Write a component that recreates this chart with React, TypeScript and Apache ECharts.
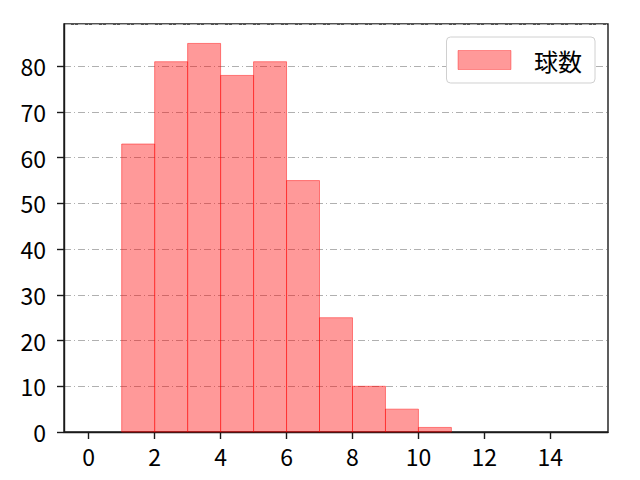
import { useRef, useEffect } from 'react'
import * as echarts from 'echarts'

// histogram bins (left edge) and counts
const binStarts = [1, 2, 3, 4, 5, 6, 7, 8, 9, 10]
const counts = [63, 81, 85, 78, 81, 55, 25, 10, 5, 1]
const binWidth = 1
const xTicks = [0, 2, 4, 6, 8, 10, 12, 14]
const seriesName = '球数'

const FONT = '"Noto Sans CJK JP", "Noto Sans", sans-serif'
const INK = '#1a1a1a'

export default function App() {
  const chartRef = useRef<HTMLDivElement>(null)

  useEffect(() => {
    if (!chartRef.current) return
    const chart = echarts.init(chartRef.current, undefined, { renderer: 'svg' })

    const data = binStarts.map((s, i) => [s, s + binWidth, counts[i]])

    chart.setOption({
      animation: false,
      backgroundColor: '#fff',
      textStyle: { fontFamily: FONT },
      grid: {
        left: 64, right: 32, top: 24, bottom: 48,
        show: true, borderColor: INK, borderWidth: 1.4, backgroundColor: 'transparent',
      },
      legend: {
        right: 45, top: 37,
        padding: [11, 13, 11, 11],
        backgroundColor: '#fff',
        borderColor: '#d0d0d0', borderWidth: 1, borderRadius: 4,
        icon: 'rect', itemWidth: 53, itemHeight: 19,
        textStyle: { fontSize: 24, color: '#000', fontFamily: FONT, padding: [0, 0, 0, 18] },
        data: [{ name: seriesName, itemStyle: { color: 'rgba(255,0,0,0.4)', borderColor: 'rgba(255,0,0,0.35)', borderWidth: 1 } }],
      },
      xAxis: {
        type: 'value',
        min: -0.75, max: 15.75,
        axisLine: { show: true, onZero: false, lineStyle: { color: INK, width: 1.4 } },
        axisTick: { show: true, inside: false, customValues: xTicks, length: 7, lineStyle: { color: INK, width: 1.4 } },
        axisLabel: { customValues: xTicks, color: '#000', fontSize: 23, margin: 12, fontFamily: FONT },
        splitLine: { show: false },
      },
      yAxis: {
        type: 'value',
        min: 0, max: 89.25, interval: 10,
        axisLine: { show: true, onZero: false, lineStyle: { color: INK, width: 1.4 } },
        axisTick: { show: true, inside: false, length: 7, lineStyle: { color: INK, width: 1.4 } },
        axisLabel: { color: '#000', fontSize: 23, margin: 18, fontFamily: FONT, showMaxLabel: false },
        splitLine: { show: true, lineStyle: { color: '#b0b0b0', width: 1, type: [7, 3, 1, 3] } },
      },
      series: [{
        name: seriesName,
        type: 'custom',
        z: 5,
        itemStyle: { color: 'rgba(255,0,0,0.4)' },
        renderItem: (_params: any, api: any) => {
          const x0 = api.value(0)
          const x1 = api.value(1)
          const y = api.value(2)
          const p0 = api.coord([x0, y])
          const p1 = api.coord([x1, 0])
          return {
            type: 'rect',
            shape: { x: p0[0], y: p0[1], width: p1[0] - p0[0], height: p1[1] - p0[1] },
            style: { fill: 'rgba(255,0,0,0.4)', stroke: 'rgba(255,0,0,0.45)', lineWidth: 1 },
          }
        },
        encode: { x: [0, 1], y: 2 },
        data,
      }],
    })

    return () => chart.dispose()
  }, [])

  return <div ref={chartRef} style={{ width: 640, height: 480, margin: -8 }} />
}
